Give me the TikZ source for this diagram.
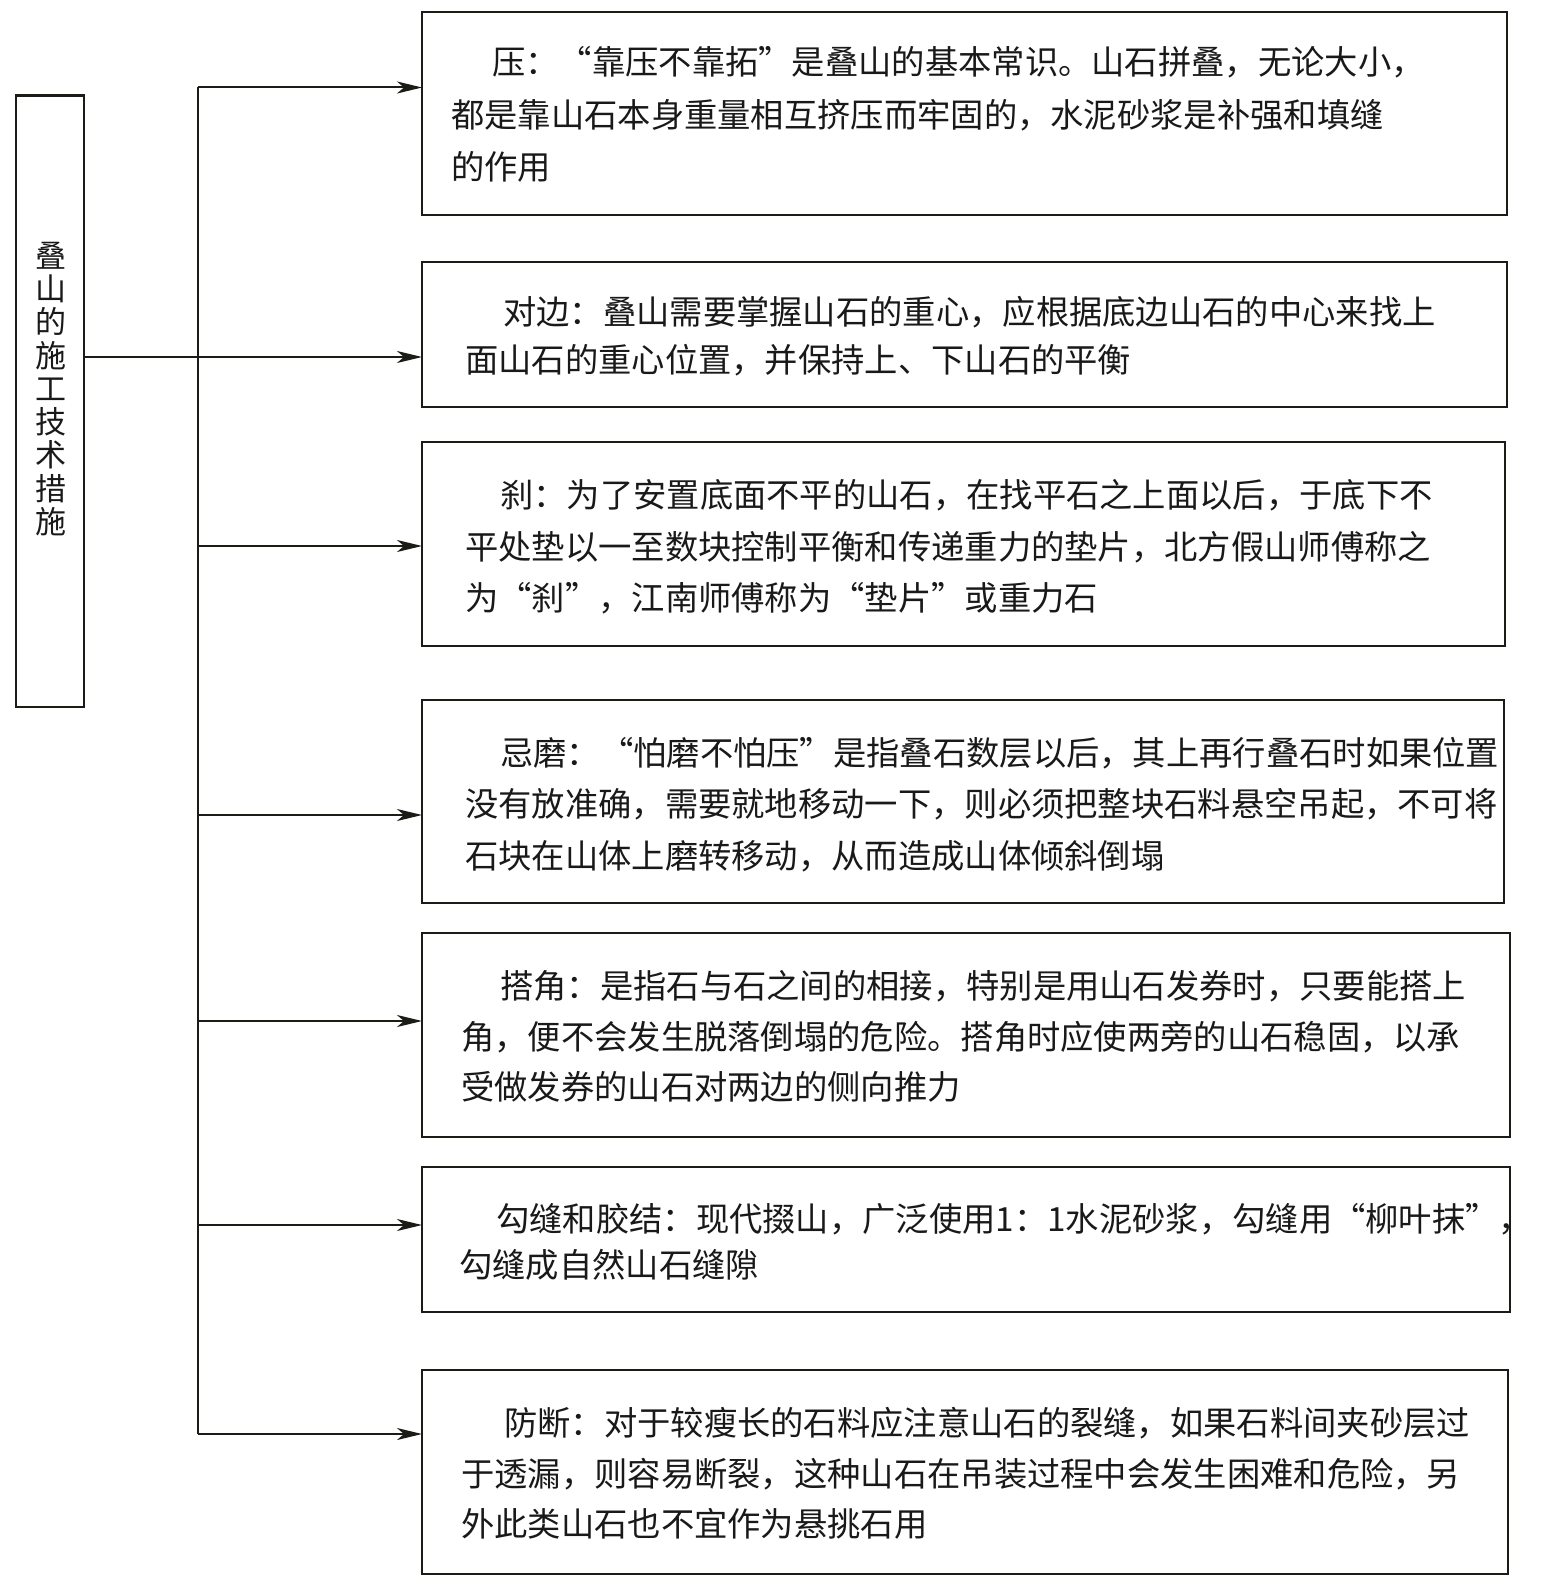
\documentclass[tikz,border=0pt]{standalone}
\usepackage{fontspec}
\setmainfont{Noto Sans CJK SC}
\usetikzlibrary{arrows.meta}
\definecolor{linec}{RGB}{28,28,22}
\definecolor{textc}{RGB}{25,25,25}
\newcommand\boxtext[2]{\vtop{\baselineskip=#1pt\lineskiplimit=-100pt #2}}
\tikzset{
  wire/.style={draw=linec, line width=2pt},
  arr/.style={wire, -{Stealth[length=25pt, width=12pt, inset=7pt]}},
  frame/.style={draw=linec, line width=2.3pt},
  btext/.style={anchor=base west, inner sep=0pt, text=textc, font=\fontsize{33.3pt}{50pt}\selectfont},
}
\begin{document}
\begin{tikzpicture}[x=1pt,y=-1pt]
\useasboundingbox (0,0) rectangle (1547,1576);
\fill[white] (0,0) rectangle (1547,1576);

% left box
\draw[frame] (16,95.5) rectangle (84,707);
\coordinate (lb) at (84,357);
\node[inner sep=0pt, text=textc, font=\fontsize{31pt}{33.25pt}\selectfont, align=center] (title) at (50.5,389) {叠\\山\\的\\施\\工\\技\\术\\措\\施};

% boxes
\draw[frame] (422,12) rectangle (1507,215);   \coordinate (b1) at (422,87.5);
\draw[frame] (422,262) rectangle (1507,407);  \coordinate (b2) at (422,357);
\draw[frame] (422,442) rectangle (1505,646);  \coordinate (b3) at (422,546);
\draw[frame] (422,700) rectangle (1504,903);  \coordinate (b4) at (422,815);
\draw[frame] (422,933) rectangle (1510,1137); \coordinate (b5) at (422,1021);
\draw[frame] (422,1167) rectangle (1510,1312);\coordinate (b6) at (422,1225);
\draw[frame] (422,1370) rectangle (1508,1574);\coordinate (b7) at (422,1434);

% trunk
\coordinate (j) at (198,357);
\coordinate (t1) at (198,87.5);
\coordinate (t3) at (198,546);
\coordinate (t4) at (198,815);
\coordinate (t5) at (198,1021);
\coordinate (t6) at (198,1225);
\coordinate (t7) at (198,1434);
\draw[wire] (lb) -- (j);
\draw[wire] (t1) -- (t7);
\draw[arr] (t1) -- (b1);
\draw[arr] (j) -- (b2);
\draw[arr] (t3) -- (b3);
\draw[arr] (t4) -- (b4);
\draw[arr] (t5) -- (b5);
\draw[arr] (t6) -- (b6);
\draw[arr] (t7) -- (b7);

% texts
\node[btext] (x1) at (451,75) {\boxtext{52.3}{%
\hbox{\hspace*{41pt}压：“靠压不靠拓”是叠山的基本常识。山石拼叠，无论大小，}
\hbox{都是靠山石本身重量相互挤压而牢固的，水泥砂浆是补强和填缝}
\hbox{的作用}}};
\node[btext] (x2) at (465,324.3) {\boxtext{48.2}{%
\hbox{\hspace*{38pt}对边：叠山需要掌握山石的重心，应根据底边山石的中心来找上}
\hbox{面山石的重心位置，并保持上、下山石的平衡}}};
\node[btext] (x3) at (465,507.2) {\boxtext{51.8}{%
\hbox{\hspace*{35pt}刹：为了安置底面不平的山石，在找平石之上面以后，于底下不}
\hbox{平处垫以一至数块控制平衡和传递重力的垫片，北方假山师傅称之}
\hbox{为“刹”，江南师傅称为“垫片”或重力石}}};
\node[btext] (x4) at (465,765.6) {\boxtext{51.3}{%
\hbox{\hspace*{35pt}忌磨：“怕磨不怕压”是指叠石数层以后，其上再行叠石时如果位置}
\hbox{没有放准确，需要就地移动一下，则必须把整块石料悬空吊起，不可将}
\hbox{石块在山体上磨转移动，从而造成山体倾斜倒塌}}};
\node[btext] (x5) at (461,998.7) {\boxtext{50.3}{%
\hbox{\hspace*{39pt}搭角：是指石与石之间的相接，特别是用山石发券时，只要能搭上}
\hbox{角，便不会发生脱落倒塌的危险。搭角时应使两旁的山石稳固，以承}
\hbox{受做发券的山石对两边的侧向推力}}};
\node[btext] (x6) at (459,1231.9) {\boxtext{45.2}{%
\hbox{\hspace*{37pt}勾缝和胶结：现代掇山，广泛使用1：1水泥砂浆，勾缝用“柳叶抹”，}
\hbox{勾缝成自然山石缝隙}}};
\node[btext] (x7) at (461,1435.9) {\boxtext{50.3}{%
\hbox{\hspace*{43pt}防断：对于较瘦长的石料应注意山石的裂缝，如果石料间夹砂层过}
\hbox{于透漏，则容易断裂，这种山石在吊装过程中会发生困难和危险，另}
\hbox{外此类山石也不宜作为悬挑石用}}};
\end{tikzpicture}
\end{document}
